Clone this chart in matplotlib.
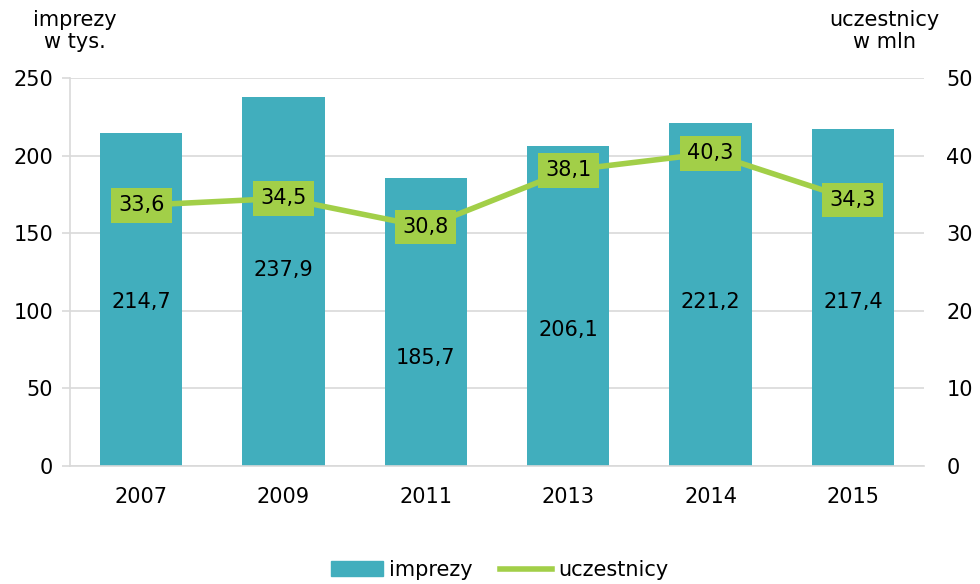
import matplotlib.pyplot as plt
from matplotlib.patches import Patch
from matplotlib.lines import Line2D

# dane
lata = ['2007', '2009', '2011', '2013', '2014', '2015']
imprezy = [214.7, 237.9, 185.7, 206.1, 221.2, 217.4]
uczestnicy = [33.6, 34.5, 30.8, 38.1, 40.3, 34.3]
# wysokosc etykiet slupkow (w jednostkach osi lewej), jak w oryginale
wys_etykiet = [105.7, 126.3, 69.6, 87.6, 105.7, 105.7]

kolor_slupki = '#41AEBD'
kolor_linia = '#A2CF48'
szary = '#D9D9D9'

plt.rcParams['font.family'] = ['DejaVu Sans']
fs = 15

fig = plt.figure(figsize=(9.8, 5.84), dpi=100)
ax = fig.add_axes([70 / 980, 1 - 466 / 584, 854 / 980, 388 / 584])
ax2 = ax.twinx()

x = range(len(lata))
ax.bar(x, imprezy, width=0.58, color=kolor_slupki, zorder=2)
ax.set_xlim(-0.5, len(lata) - 0.5)
ax.set_ylim(0, 250)
ax.set_yticks(range(0, 251, 50))
ax.grid(axis='y', color=szary, linewidth=1.2, zorder=0)
ax.set_axisbelow(True)
ax.set_xticks(list(x))
ax.set_xticklabels(lata, fontsize=fs)
ax.tick_params(axis='x', length=0, pad=15)
ax.tick_params(axis='y', length=6, color=szary, width=1.2, labelsize=fs, pad=6)
for s in ['top', 'right']:
    ax.spines[s].set_visible(False)
ax.spines['left'].set_color(szary)
ax.spines['bottom'].set_color(szary)
ax.spines['left'].set_linewidth(1.2)
ax.spines['bottom'].set_linewidth(1.2)

for i, v in enumerate(imprezy):
    ax.text(i, wys_etykiet[i], f'{v:.1f}'.replace('.', ','), ha='center', va='center',
            fontsize=fs, zorder=3)

ax2.plot(list(x), uczestnicy, color=kolor_linia, linewidth=4, zorder=3)
ax2.set_ylim(0, 50)
ax2.set_yticks(range(0, 51, 10))
ax2.tick_params(axis='y', length=0, labelsize=fs, pad=16)
for s in ax2.spines.values():
    s.set_visible(False)
for i, v in enumerate(uczestnicy):
    ax2.text(i, v, f'{v:.1f}'.replace('.', ','), ha='center', va='center',
             fontsize=fs, zorder=4,
             bbox=dict(boxstyle='square,pad=0.35', fc=kolor_linia, ec='none'))

fig.text(75 / 980, 1 - 31 / 584, 'imprezy\nw tys.', ha='center', va='center',
         fontsize=fs, linespacing=1.15)
fig.text(884 / 980, 1 - 31 / 584, 'uczestnicy\nw mln', ha='center', va='center',
         fontsize=fs, linespacing=1.15)

uchwyty = [Patch(color=kolor_slupki), Line2D([0], [0], color=kolor_linia, linewidth=4)]
fig.legend(uchwyty, ['imprezy', 'uczestnicy'], loc='center', bbox_to_anchor=(0.51, 1 - 570 / 584),
           ncol=2, frameon=False, fontsize=fs, handlelength=2.5, columnspacing=1.3,
           handletextpad=0.3)

fig.savefig('out.png', dpi=100)
